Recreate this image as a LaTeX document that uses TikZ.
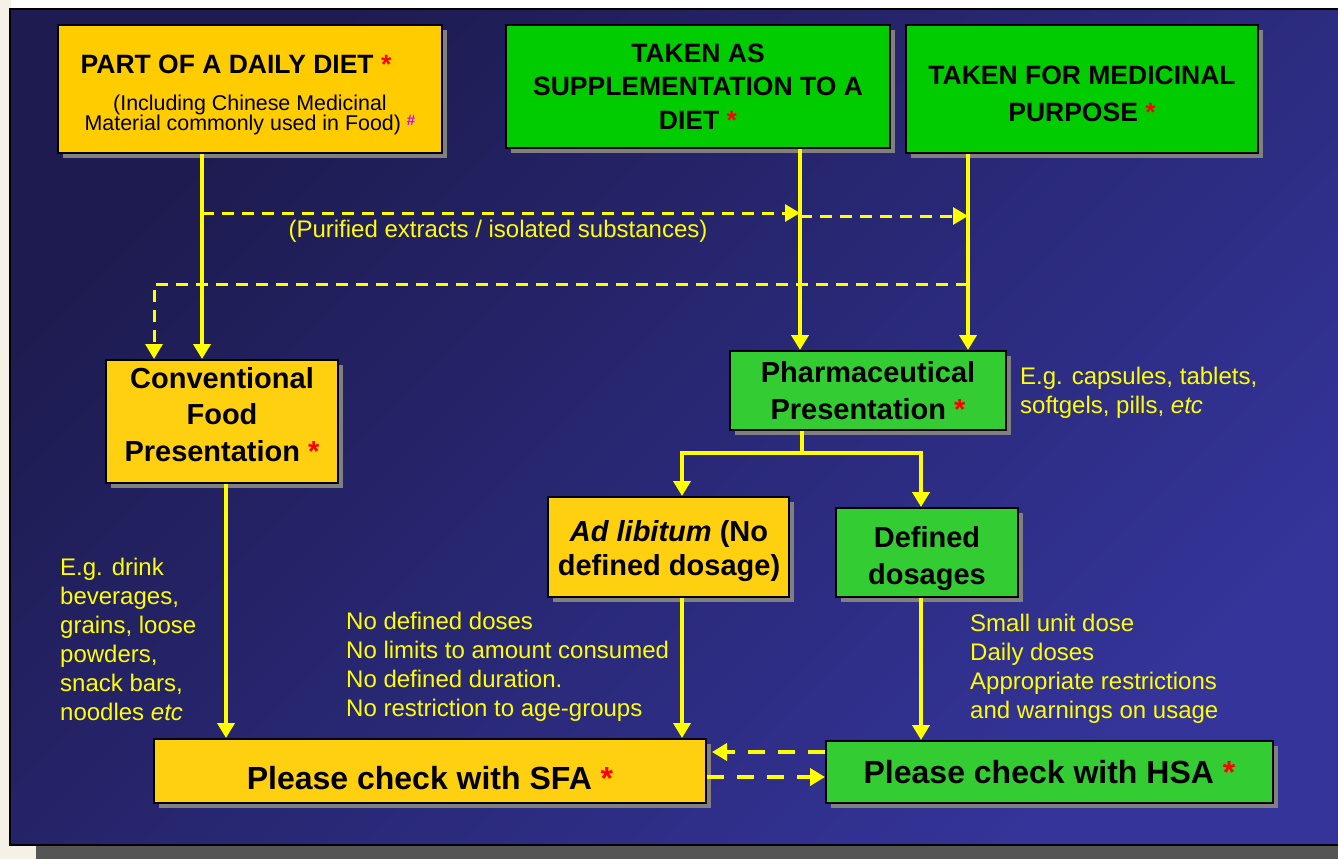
\documentclass[tikz,border=0pt]{standalone}
\usepackage{fontspec}
\setmainfont{Liberation Sans}
\usetikzlibrary{arrows.meta,shadows}
\definecolor{bgA}{HTML}{1D1B4F}
\definecolor{bgB}{HTML}{34349A}
\definecolor{yelA}{HTML}{FFCC00}
\definecolor{yelB}{HTML}{FFD010}
\definecolor{grnA}{HTML}{00CC00}
\definecolor{grnB}{HTML}{33CC33}
\definecolor{shd}{HTML}{808080}
\definecolor{lineY}{HTML}{FFFF00}
\definecolor{starR}{HTML}{FF0000}
\definecolor{hashM}{HTML}{CC00FF}
\definecolor{cream}{HTML}{F6F1E6}
\definecolor{botG}{HTML}{555555}
\newcommand{\rstar}{\textcolor{starR}{*}}
\tikzset{
  box/.style={draw=black, line width=2pt, inner sep=0pt, align=center,
    drop shadow={shadow xshift=5pt, shadow yshift=-5pt, fill=shd, opacity=1}},
  txt/.style={inner sep=0pt, align=center},
  bigA/.style={font=\fontsize{26.5}{33.5}\selectfont\bfseries},
  bigB/.style={font=\fontsize{29}{36.5}\selectfont\bfseries},
  bigC/.style={font=\fontsize{32}{38}\selectfont\bfseries},
  note/.style={text=lineY, inner sep=0pt, align=left, font=\fontsize{24}{29}\selectfont},
  conn/.style={draw=lineY, line width=4pt},
  tip/.style={-{Triangle[length=15pt,width=17pt]}},
  dline/.style={draw=lineY, line width=3pt, dash pattern=on 12pt off 8pt},
  dlineB/.style={draw=lineY, line width=4.3pt, dash pattern=on 17pt off 13pt},
}
\begin{document}
\begin{tikzpicture}[x=1pt,y=-1pt]
\useasboundingbox (0,0) rectangle (1338,859);
% background
\fill[white] (0,0) rectangle (1338,859);
\fill[cream] (0,0) rectangle (11,859);
\fill[cream] (0,845) rectangle (36,859);
\fill[botG] (36,845) rectangle (1338,859);
\shade[top color=bgA, bottom color=bgB, shading angle=45] (10,9) rectangle (1345,845);
\draw[black, line width=2.5pt] (1345,9) -- (10,9) -- (10,845) -- (1345,845);

% boxes
\node[box, fill=yelA, minimum width=384pt, minimum height=128pt] (A) at (250,89) {};
\node[txt, bigA] (At) at (236,64) {PART OF A DAILY DIET \rstar};
\node[txt, font=\fontsize{21.4}{20}\selectfont] (As) at (250,115)
  {(Including Chinese Medicinal\\Material commonly used in Food) \textcolor{hashM}{\raisebox{5pt}{\fontsize{15}{15}\selectfont\bfseries\#}}};
\node[box, fill=grnA, minimum width=384pt, minimum height=123pt, bigA] (B) at (698,86.5)
  {TAKEN AS\\SUPPLEMENTATION TO A\\DIET \rstar};
\node[box, fill=grnA, minimum width=352pt, minimum height=128pt] (C) at (1082,89) {};
\node[txt, font=\fontsize{26.5}{37}\selectfont\bfseries] (Ct) at (1082,94)
  {TAKEN FOR MEDICINAL\\PURPOSE \rstar};
\node[box, fill=yelB, minimum width=232pt, minimum height=123pt] (D) at (222,421.5) {};
\node[txt, bigB] (Dt) at (222,414.5) {Conventional\\Food\\Presentation \rstar};
\node[box, fill=grnB, minimum width=276pt, minimum height=79pt, font=\fontsize{29}{37}\selectfont\bfseries] (E) at (868,390.5)
  {Pharmaceutical\\Presentation \rstar};
\node[box, fill=yelB, minimum width=241pt, minimum height=100pt] (F) at (668.5,547) {};
\node[txt, font=\fontsize{29}{34}\selectfont\bfseries] (Ft) at (669,551)
  {\textit{Ad libitum} (No\\defined dosage)};
\node[box, fill=grnB, minimum width=182pt, minimum height=89pt] (G) at (927,552.5) {};
\node[txt, bigB] (Gt) at (927,558.5) {Defined\\dosages};
\node[box, fill=yelB, minimum width=552pt, minimum height=64pt, bigC, text height=37pt, text depth=0pt] (H) at (430,771)
  {Please check with SFA \rstar};
\node[box, fill=grnB, minimum width=447pt, minimum height=62pt, bigC] (I) at (1049.5,772)
  {Please check with HSA \rstar};

% notes
\node[note, anchor=center] (purif) at (498,231) {(Purified extracts / isolated substances)};
\node[note, anchor=north west] (egcap) at (1020,367) {E.g. capsules, tablets,\\softgels, pills, \textit{etc}};
\node[note, anchor=north west] (egdrink) at (60,558) {E.g. drink\\beverages,\\grains, loose\\powders,\\snack bars,\\noodles \textit{etc}};
\node[note, anchor=north west] (nodef) at (346,612) {No defined doses\\No limits to amount consumed\\No defined duration.\\No restriction to age-groups};
\node[note, anchor=north west] (small) at (970,614) {Small unit dose\\Daily doses\\Appropriate restrictions\\and warnings on usage};

% x positions
\coordinate (xa) at (202,0);
\coordinate (xb) at (800,0);
\coordinate (xc) at (968,0);
\coordinate (xd) at (154,0);
\coordinate (xe) at (802,0);
\coordinate (xf) at (682,0);
\coordinate (xg) at (921,0);
\coordinate (xh) at (226,0);
% junction points
\coordinate (j1) at (202,213);
\coordinate (j2) at (800,213);
\coordinate (j3) at (800,216);
\coordinate (j4) at (968,216);
\coordinate (k1) at (968,284);
\coordinate (k2) at (154,284);
\coordinate (m1) at (802,453);
\coordinate (m2) at (682,453);
\coordinate (m3) at (921,453);
\coordinate (hy1) at (0,752);
\coordinate (hy2) at (0,777);

% connectors
\draw[conn, tip] (A.south -| xa) -- (D.north -| xa);
\draw[conn, tip] (B.south -| xb) -- (E.north -| xb);
\draw[conn, tip] (C.south -| xc) -- (E.north -| xc);
\draw[dline, tip] (j1) -- (j2);
\draw[dline, tip] (j3) -- (j4);
\draw[dline, tip] (k1) -- (k2) -- (D.north -| xd);
\draw[conn] (E.south -| xe) -- (m1);
\draw[conn, line cap=rect] (m2) -- (m3);
\draw[conn, tip] (m2) -- (F.north -| xf);
\draw[conn, tip] (m3) -- (G.north -| xg);
\draw[conn, tip] (D.south -| xh) -- (H.north -| xh);
\draw[conn, tip] (F.south -| xf) -- (H.north -| xf);
\draw[conn, tip] (G.south -| xg) -- (I.north -| xg);
\draw[dlineB, tip] (I.west |- hy1) -- ([xshift=5pt]H.east |- hy1);
\draw[dlineB, tip] (H.east |- hy2) -- (I.west |- hy2);
\end{tikzpicture}
\end{document}
